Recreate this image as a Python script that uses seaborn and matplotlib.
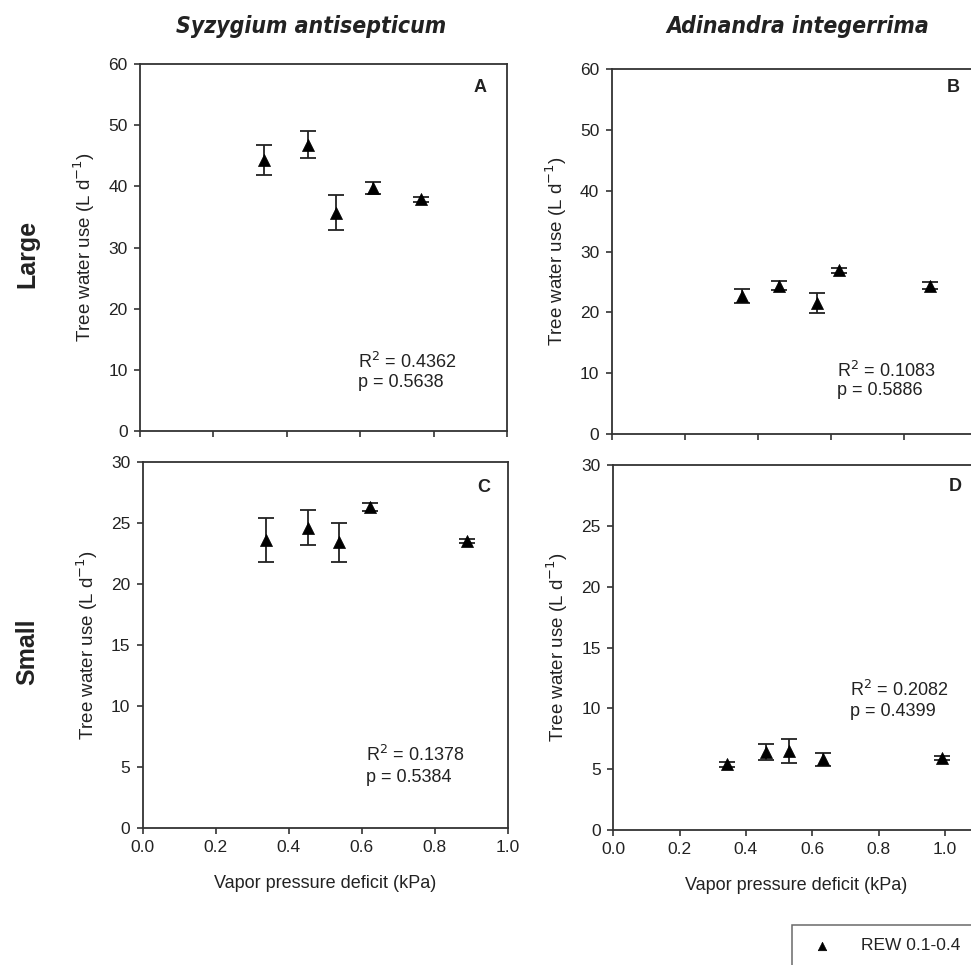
import numpy as np
import pandas as pd
import matplotlib
matplotlib.use("Agg")
import matplotlib.pyplot as plt
import seaborn as sns
from matplotlib.lines import Line2D
from matplotlib import font_manager

# ---------------- data ----------------
vpd_A = [0.337, 0.458, 0.535, 0.636, 0.766]
use_A = [44.3, 46.8, 35.7, 39.7, 37.9]
err_A = [2.5, 2.2, 2.9, 1.0, 0.4]

vpd_B = [0.358, 0.459, 0.561, 0.622, 0.871]
use_B = [22.7, 24.4, 21.5, 26.9, 24.4]
err_B = [1.2, 0.7, 1.6, 0.4, 0.6]

vpd_C = [0.337, 0.454, 0.537, 0.623, 0.890]
use_C = [23.6, 24.6, 23.4, 26.3, 23.5]
err_C = [1.8, 1.45, 1.6, 0.3, 0.2]

vpd_D = [0.342, 0.462, 0.531, 0.633, 0.990]
use_D = [5.4, 6.4, 6.5, 5.8, 5.9]
err_D = [0.2, 0.65, 1.0, 0.5, 0.15]

stats_r2 = ["0.4362", "0.1083", "0.1378", "0.2082"]
stats_p = ["0.5638", "0.5886", "0.5384", "0.4399"]
panel_letters = ["A", "B", "C", "D"]
species = ["Syzygium antisepticum", "Adinandra integerrima"]
sizes = ["Large", "Small"]
series_label = "REW 0.1-0.4"

# ---------------- style ----------------
sns.set_theme(style="white")
plt.rcParams["font.family"] = ["Liberation Sans", "DejaVu Sans"]
TXT = "#222222"
SPN = "#333333"

# condensed font for the column titles if available
installed = {f.name for f in font_manager.fontManager.ttflist}
narrow_stretch = "normal"
title_size = 17.5
if "Liberation Sans Narrow" in installed:
    title_family = ["Liberation Sans Narrow"]
else:
    cond = [f for f in font_manager.fontManager.ttflist
            if "Condensed" in f.fname and "DejaVuSans" in f.fname.replace("-", "")]
    if cond:
        title_family = ["DejaVu Sans"]
        narrow_stretch = "condensed"
        title_size = 16.5
    else:
        title_family = ["Liberation Sans"]

W, H = 971, 965
fig = plt.figure(figsize=(W / 100, H / 100), dpi=100)
fig.patch.set_facecolor("white")


def add_ax(l, t, r, b):
    return fig.add_axes([l / W, 1 - b / H, (r - l) / W, (b - t) / H])


axA = add_ax(140, 64, 507, 431)
axB = add_ax(611.7, 69, 977, 434)
axC = add_ax(142.7, 461.7, 507.5, 827.7)
axD = add_ax(613.3, 465, 978, 830)

panels = [
    (axA, vpd_A, use_A, err_A, 60, 10, 1.0),
    (axB, vpd_B, use_B, err_B, 60, 10, 1.0),
    (axC, vpd_C, use_C, err_C, 30, 5, 1.0),
    (axD, vpd_D, use_D, err_D, 30, 5, 1.1),
]

letter_pos = [(0.926, 56.1), (0.934, 56.9), (0.936, 27.9), (1.03, 28.2)]
stat_pos = [(0.594, 11.3, 8.0), (0.617, 10.4, 7.1), (0.612, 5.96, 4.08), (0.714, 11.5, 9.7)]

for i, (ax, xv, yv, ev, ymax, ystep, xmax) in enumerate(panels):
    df = pd.DataFrame({"vpd": xv, "use": yv, "err": ev})
    ax.errorbar(df["vpd"], df["use"], yerr=df["err"], fmt="none",
                ecolor="#222222", elinewidth=1.3, capsize=6, capthick=1.3, zorder=2)
    sns.scatterplot(data=df, x="vpd", y="use", marker="^", s=75, color="black",
                    edgecolor="black", linewidth=0.5, ax=ax, zorder=3,
                    label=series_label if i == 0 else None, legend=False)
    ax.set_xlim(0, xmax)
    ax.set_ylim(0, ymax)
    ax.set_yticks(np.arange(0, ymax + 0.1, ystep))
    ax.set_xticks(np.arange(0, 1.01, 0.2))
    ax.set_facecolor("white")
    for sp in ax.spines.values():
        sp.set_visible(True)
        sp.set_color(SPN)
        sp.set_linewidth(1.3)
    ax.tick_params(axis="both", direction="out", length=4, width=1.2, color=SPN,
                   labelsize=12.5, labelcolor=TXT, pad=5, left=True, bottom=True)
    ax.set_xlabel("")
    ax.set_ylabel("Tree water use (L d$^{-1}$)", fontsize=13.5, color=TXT, labelpad=8)
    if i < 2:
        ax.set_xticklabels([])
    else:
        ax.set_xticklabels([f"{v:.1f}" for v in np.arange(0, 1.01, 0.2)])
        ax.set_xlabel("Vapor pressure deficit (kPa)", fontsize=13, color=TXT, labelpad=14)
    lx, ly = letter_pos[i]
    ax.text(lx, ly, panel_letters[i], fontsize=13, fontweight="bold", color=TXT,
            ha="center", va="center")
    sx, s1, s2 = stat_pos[i]
    ax.text(sx, s1, f"R$^2$ = {stats_r2[i]}", fontsize=13, color=TXT, ha="left", va="center")
    ax.text(sx, s2, f"p = {stats_p[i]}", fontsize=13, color=TXT, ha="left", va="center")

# column titles
for cx, name in [(311, species[0]), (798, species[1])]:
    fig.text(cx / W, 1 - 27 / H, name, fontsize=title_size, fontweight="bold",
             fontstyle="italic", family=title_family, fontstretch=narrow_stretch,
             color=TXT, ha="center", va="center")

# row labels
fig.text(27 / W, 1 - 254 / H, sizes[0], fontsize=18, fontweight="bold", color=TXT,
         rotation=90, ha="center", va="center")
fig.text(27 / W, 1 - 652 / H, sizes[1], fontsize=18, fontweight="bold", color=TXT,
         rotation=90, ha="center", va="center")

# legend
handles, labels = axA.get_legend_handles_labels()
if not handles:
    handles = [Line2D([], [], marker="^", color="black", linestyle="none", markersize=7)]
    labels = [series_label]
leg = fig.legend(handles, labels, loc="upper left",
                 bbox_to_anchor=(792 / W, 0.0, 260 / W, 1 - 925 / H),
                 mode="expand", frameon=True, fancybox=False, edgecolor="#444444",
                 fontsize=12.5, handletextpad=1.2, borderpad=0.75, borderaxespad=0,
                 markerscale=0.7)
leg.get_frame().set_linewidth(1.1)
for t in leg.get_texts():
    t.set_color(TXT)

fig.savefig("out.png", dpi=100, facecolor="white")
